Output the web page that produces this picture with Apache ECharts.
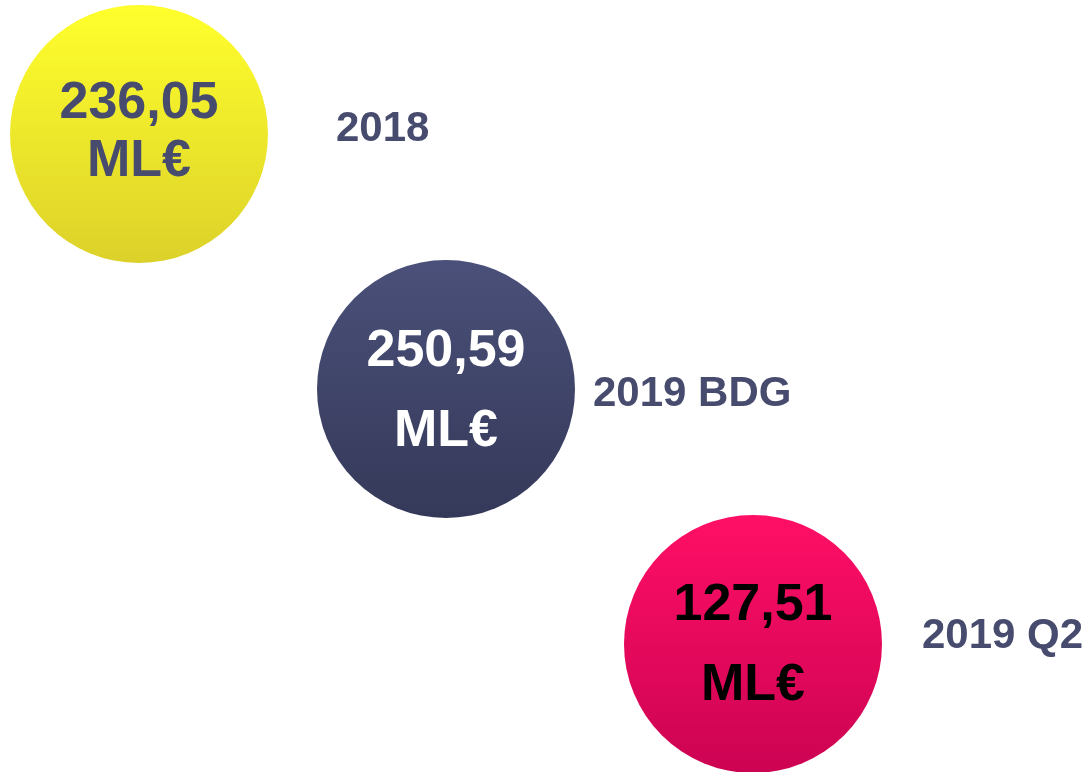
<!DOCTYPE html>
<html>
<head>
<meta charset="utf-8">
<style>
  html, body { margin: 0; padding: 0; background: #fff; }
  #chart { width: 1092px; height: 772px; }
</style>
<script src="https://cdn.jsdelivr.net/npm/echarts@6/dist/echarts.min.js"></script>
</head>
<body>
<div id="chart"></div>
<script>
// periods and amounts (millions of euro)
const categories = ["2018", "2019 BDG", "2019 Q2"];
const values = [236.05, 250.59, 127.51];
const unit = "ML€";

// gradient top / bottom per bubble, and text colour inside
const topColors = ["#ffff2c", "#4a5079", "#ff0f66"];
const bottomColors = ["#dcd12a", "#353959", "#cc0352"];
const textColors = ["#474b6e", "#ffffff", "#000000"];

// small layout tweaks for the labels, per bubble
const nameGap = [68, 18, 40];
const nameShift = [-5, 5, -8];
const valueShift = [-1, 3, 2];
const valueLineHeight = [58, 80, 80];

const fontFamily = "'Liberation Sans', Arial, Helvetica, sans-serif";

function fmt(v) {
  return v.toFixed(2).replace(".", ",");
}

const chart = echarts.init(document.getElementById("chart"));

chart.setOption({
  animation: false,
  grid: { left: 139, right: 339, top: 134, bottom: 128 },
  xAxis: {
    type: "category",
    data: categories,
    boundaryGap: false,
    show: false,
  },
  yAxis: {
    type: "category",
    data: categories,
    boundaryGap: false,
    inverse: true,
    show: false,
  },
  series: [
    {
      // period names on the right of each bubble
      type: "scatter",
      silent: true,
      symbolSize: 258,
      itemStyle: { color: "rgba(0,0,0,0)", opacity: 1 },
      label: {
        show: true,
        position: "right",
        opacity: 1,
        formatter: (p) => categories[p.dataIndex],
        color: "#474b6e",
        fontFamily: fontFamily,
        fontWeight: "bold",
        fontSize: 42,
      },
      data: categories.map((c, i) => ({
        value: [c, c],
        label: { distance: nameGap[i], offset: [0, nameShift[i]] },
      })),
    },
    {
      type: "scatter",
      symbolSize: 258,
      itemStyle: { opacity: 1 },
      label: {
        show: true,
        position: "inside",
        opacity: 1,
        formatter: (p) => "{v|" + fmt(values[p.dataIndex]) + "}\n{u|" + unit + "}",
      },
      data: categories.map((c, i) => ({
        value: [c, c],
        itemStyle: {
          opacity: 1,
          color: new echarts.graphic.LinearGradient(0, 0, 0, 1, [
            { offset: 0, color: topColors[i] },
            { offset: 1, color: bottomColors[i] },
          ]),
        },
        label: {
          offset: [0, valueShift[i]],
          rich: {
            v: {
              color: textColors[i],
              fontFamily: fontFamily,
              fontWeight: "bold",
              fontSize: 52,
              lineHeight: valueLineHeight[i],
            },
            u: {
              color: textColors[i],
              fontFamily: fontFamily,
              fontWeight: "bold",
              fontSize: 52,
              lineHeight: valueLineHeight[i],
            },
          },
        },
      })),
    },
  ],
});
</script>
</body>
</html>
